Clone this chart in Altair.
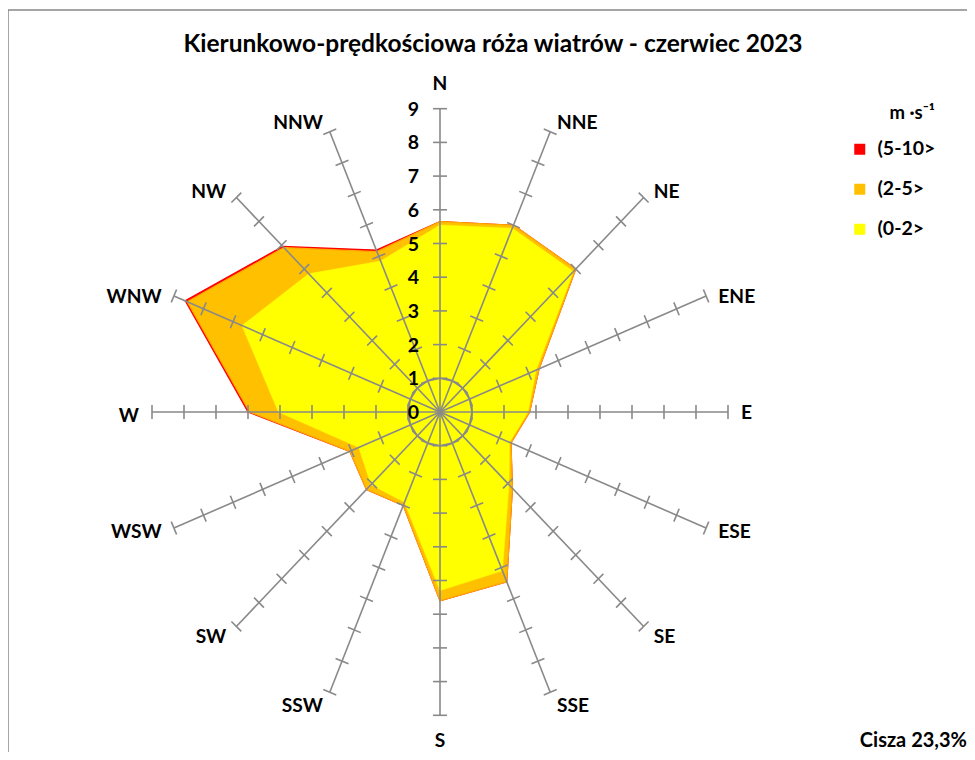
import math
import altair as alt
import pandas as pd

# ---------------- data ----------------
directions = ["N", "NNE", "NE", "ENE", "E", "ESE", "SE", "SSE",
              "S", "SSW", "SW", "WSW", "W", "WNW", "NW", "NNW"]
classes = ["(5-10>", "(2-5>", "(0-2>"]
colors = ["#FF0000", "#FFC000", "#FFFF00"]
# cumulative radius (value on the rose scale) per direction
cum_0_2 = [5.55, 5.9, 5.9, 3.25, 2.75, 2.35, 3.05, 5.1, 5.3, 2.9, 3.05, 2.75, 5.05, 6.7, 5.8, 4.85]
cum_0_5 = [5.65, 6.0, 6.0, 3.35, 2.8, 2.4, 3.2, 5.45, 5.6, 3.0, 3.25, 3.05, 5.95, 8.55, 6.9, 5.15]
cum_0_10 = [5.65, 6.0, 6.0, 3.35, 2.8, 2.4, 3.2, 5.45, 5.6, 3.0, 3.25, 3.05, 6.0, 8.62, 6.95, 5.2]
scale_levels = [0, 1, 2, 3, 4, 5, 6, 7, 8, 9]
title_text = "Kierunkowo-prędkościowa róża wiatrów - czerwiec 2023"
calm_text = "Cisza 23,3%"
unit_title = "m ·s⁻¹"

FONT = "Lato"
GRAY = "#898989"
W, H = 959, 744
# pixel geometry (centre of the rose inside the view, px per unit)
CX, CY, KX, KY = 432, 404, 32.0, 33.7
xdom = [-CX / KX, (W - CX) / KX]
ydom = [-(H - CY) / KY, CY / KY]
RMAX = 9


def X(f):
    return alt.X(f, type="quantitative", scale=alt.Scale(domain=xdom, nice=False, zero=False), axis=None)


def Y(f):
    return alt.Y(f, type="quantitative", scale=alt.Scale(domain=ydom, nice=False, zero=False), axis=None)


# ---------------- tables ----------------
poly_rows = []
for cls, vals in zip(classes, [cum_0_10, cum_0_5, cum_0_2]):
    for i in range(len(directions) + 1):
        poly_rows.append({"cls": cls, "i": i, "r": vals[i % len(directions)]})
poly = pd.DataFrame(poly_rows)

dir_df = pd.DataFrame({"dir": directions, "i": list(range(len(directions)))})

tick_rows = [{"i": i, "r": lv} for i in range(len(directions)) for lv in scale_levels[1:]]
ticks_df = pd.DataFrame(tick_rows)

ring_df = pd.DataFrame({"i": list(range(len(directions) + 1)), "r": [1] * (len(directions) + 1)})

ang = "datum.i * PI / 8"

color_scale = alt.Scale(domain=classes, range=colors)
legend = alt.Legend(
    title=unit_title, orient="none", legendX=842, legendY=96,
    symbolType="square", symbolSize=121, symbolStrokeWidth=0,
    labelFont=FONT, labelFontSize=19.5, labelFontWeight="bold", labelColor="black",
    titleFont=FONT, titleFontSize=18.5, titleFontWeight="bold", titleColor="black",
    titleAnchor="end", titlePadding=17, rowPadding=19, labelOffset=8,
)

base_poly = alt.Chart(poly).transform_calculate(
    x=f"datum.r * sin({ang})", y=f"datum.r * cos({ang})"
)

layers = []
stroke_for = {"(5-10>": "#FF0000", "(2-5>": "#FFA800", "(0-2>": "#FFFF00"}
for cls in classes:
    layers.append(
        base_poly.transform_filter(alt.datum.cls == cls)
        .mark_line(filled=True, stroke=stroke_for[cls], strokeWidth=1.2 if cls != "(0-2>" else 0.5)
        .encode(x=X("x"), y=Y("y"), order=alt.Order("i:Q"),
                color=alt.Color("cls:N", scale=color_scale, legend=legend))
    )

# inner ring (value 1)
ring = alt.Chart(ring_df).transform_calculate(
    x=f"datum.r * sin({ang})", y=f"datum.r * cos({ang})"
).mark_line(color=GRAY, strokeWidth=1.6).encode(x=X("x"), y=Y("y"), order=alt.Order("i:Q"))

# spokes
spokes = alt.Chart(dir_df).transform_calculate(
    x0="0", y0="0", x=f"{RMAX} * sin({ang})", y=f"{RMAX} * cos({ang})"
).mark_rule(color=GRAY, strokeWidth=1.6).encode(
    x=X("x0"), y=Y("y0"), x2=alt.X2("x"), y2=alt.Y2("y"))

# tick marks
hx, hy = 7 / KX, 7 / KY
ticks = alt.Chart(ticks_df).transform_calculate(
    xa=f"datum.r * sin({ang}) + {hx} * cos({ang})",
    ya=f"datum.r * cos({ang}) - {hy} * sin({ang})",
    xb=f"datum.r * sin({ang}) - {hx} * cos({ang})",
    yb=f"datum.r * cos({ang}) + {hy} * sin({ang})",
).mark_rule(color=GRAY, strokeWidth=1.6).encode(
    x=X("xa"), y=Y("ya"), x2=alt.X2("xb"), y2=alt.Y2("yb"))

# scale numbers on the N spoke
nums = alt.Chart(pd.DataFrame({"v": scale_levels})).transform_calculate(
    x="0", y="datum.v", t="datum.v + ''"
).mark_text(align="right", baseline="middle", dx=-21, dy=1, font=FONT, fontSize=19.5,
            fontWeight="bold", color="black").encode(x=X("x"), y=Y("y"), text="t:N")
layers += [ring, spokes, ticks, nums]

# direction labels, offset outward from the end of each spoke
for i, d in enumerate(directions):
    a = i * math.pi / 8
    s, c = math.sin(a), math.cos(a)
    if abs(s) < 0.01:
        align, dx, dy = "center", 0, (-25 if c > 0 else 26)
    else:
        align = "left" if s > 0 else "right"
        dx = (3 + 10 * abs(s)) * (1 if s > 0 else -1)
        dy = 1 if abs(c) < 0.5 else (8 if abs(c) < 0.8 else 11)
        dy = -dy + 2 if c > 0 else dy + 3
    layers.append(
        alt.Chart(dir_df).transform_filter(alt.datum.dir == d).transform_calculate(
            x=f"{RMAX} * sin({ang})", y=f"{RMAX} * cos({ang})"
        ).mark_text(align=align, baseline="middle", dx=dx, dy=dy, font=FONT, fontSize=19.2,
                    fontWeight="bold", color="black").encode(x=X("x"), y=Y("y"), text="dir:N")
    )

# title and calm annotation
ann = pd.DataFrame({"t": [title_text]})
layers.append(alt.Chart(ann).mark_text(align="center", baseline="middle", font=FONT, fontSize=24.5,
                                       fontWeight="bold", color="black")
              .encode(x=alt.value(485), y=alt.value(37), text="t:N"))
calm = pd.DataFrame({"t": [calm_text]})
layers.append(alt.Chart(calm).mark_text(align="right", baseline="alphabetic", font=FONT, fontSize=20,
                                        fontWeight="bold", color="black")
              .encode(x=alt.value(959), y=alt.value(739), text="t:N"))

# frame (left and top edges)
frame = pd.DataFrame({"k": [0]})
layers.append(alt.Chart(frame).mark_rule(color="#878787", strokeWidth=1.5)
              .encode(x=alt.value(0), y=alt.value(2), y2=alt.value(H)))
layers.append(alt.Chart(frame).mark_rule(color="#878787", strokeWidth=1.5)
              .encode(x=alt.value(0), x2=alt.value(W), y=alt.value(2)))

chart = alt.layer(*layers).properties(
    width=W, height=H, padding=0, background="white",
    autosize=alt.AutoSizeParams(type="none")
).configure_view(stroke=None)

chart.save("out.html", embed_options={"renderer": "svg", "actions": False})
